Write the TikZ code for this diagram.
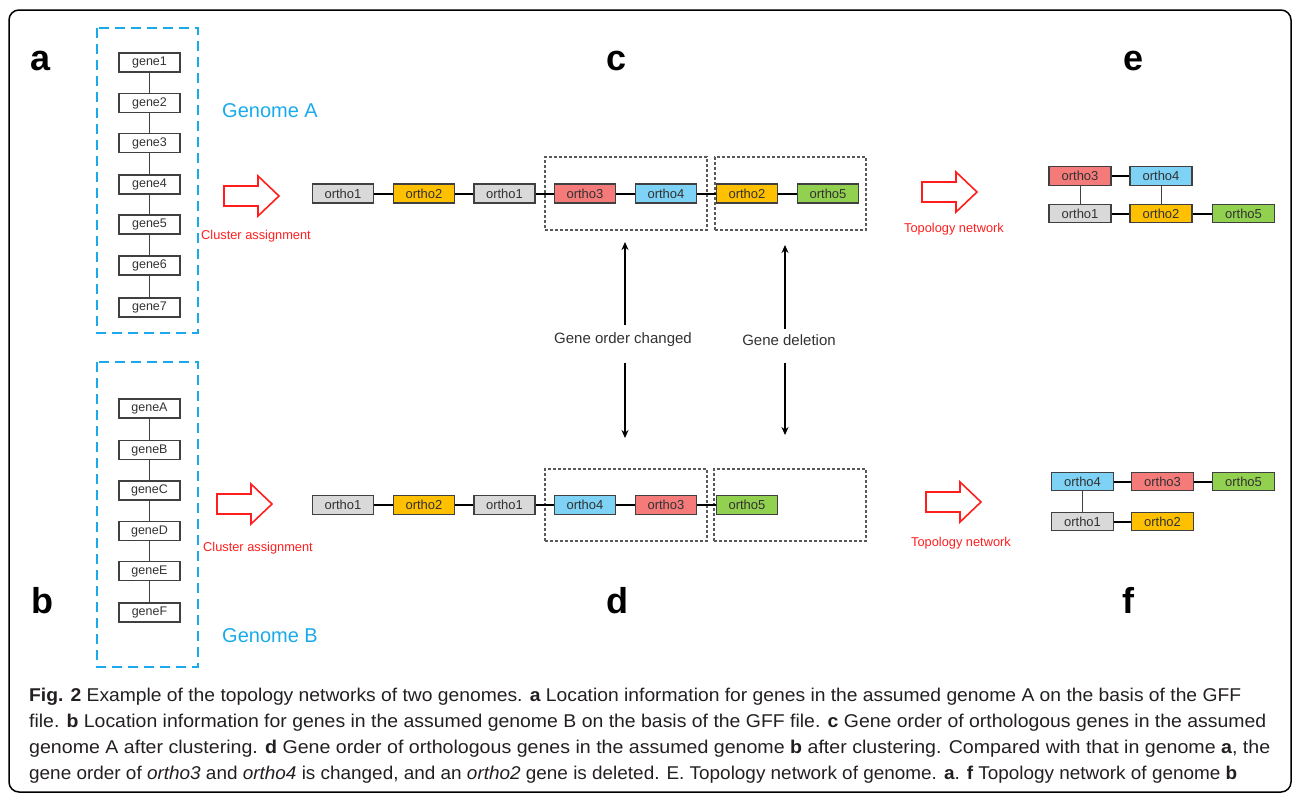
\documentclass[tikz,border=0pt]{standalone}
\usepackage{fontspec}
\setmainfont{Liberation Sans}
\usepackage{graphicx}
\usetikzlibrary{arrows.meta}
\definecolor{gcyan}{RGB}{25,170,235}
\definecolor{rarrow}{RGB}{255,30,30}
\definecolor{boxc}{RGB}{64,64,64}
\definecolor{txtc}{RGB}{50,50,50}
\definecolor{cgray}{RGB}{217,217,217}
\definecolor{corange}{RGB}{255,192,0}
\definecolor{csalmon}{RGB}{245,122,122}
\definecolor{csky}{RGB}{125,210,245}
\definecolor{cgreen}{RGB}{146,208,80}
\definecolor{captc}{RGB}{35,31,32}
\tikzset{
  letter/.style={anchor=base, inner sep=0pt, font=\fontsize{36}{36}\selectfont\bfseries},
  genebox/.style={draw=boxc, line width=1.2pt, fill=white, minimum width=61pt, minimum height=19pt, inner sep=0pt, text=txtc, font=\fontsize{12.5}{13}\selectfont},
  orthobox/.style={draw=boxc, line width=1.2pt, minimum width=61pt, minimum height=19pt, inner sep=0pt, text=txtc, font=\fontsize{13}{13}\selectfont},
  geneline/.style={draw=boxc, line width=1pt},
  chain/.style={draw=black, line width=2pt},
  vlink/.style={draw=boxc, line width=1pt},
  bluedash/.style={draw=gcyan, line width=2.5pt, dash pattern=on 10pt off 6pt},
  graydash/.style={draw=black!65, line width=1.1pt, dash pattern=on 3pt off 2pt, minimum height=73pt, inner sep=0pt},
  genomelbl/.style={anchor=west, inner sep=0pt, text=gcyan, font=\fontsize{20}{20}\selectfont},
  redlbl/.style={anchor=west, inner sep=0pt, text=rarrow, font=\fontsize{12.8}{13}\selectfont},
  changelbl/.style={inner sep=0pt, text=txtc, font=\fontsize{15}{15}\selectfont},
  dblarrow/.style={draw=black, line width=1.5pt, -{Stealth[length=8pt,width=7pt]}},
  capline/.style={anchor=base west, inner sep=0pt, text=captc, font=\fontsize{18.5}{20}\selectfont},
  redarrow/.pic={\draw[draw=rarrow, line width=1.6pt, fill=white, line join=miter]
     (0,-10) -- (34,-10) -- (34,-20) -- (55,0) -- (34,20) -- (34,10) -- (0,10) -- cycle;}
}
\begin{document}
\begin{tikzpicture}[x=1pt,y=-1pt]
\useasboundingbox (0,0) rectangle (1293,793);
\draw[line width=1.5pt, rounded corners=10pt] (9,10) rectangle (1291,792);

% panel letters
\node[letter] (la) at (41,70) {a};
\node[letter] (lb) at (42,613) {b};
\node[letter] (lc) at (617,70) {c};
\node[letter] (ld) at (617,613) {d};
\node[letter] (le) at (1133,70) {e};
\node[letter] (lf) at (1128,613) {f};

% genome A
\draw[bluedash] (97,28) rectangle (198,333);
\foreach \n/\y in {1/62.5,2/103,3/143,4/184.5,5/224.5,6/265.5,7/307.5}
  \node[genebox] (g\n) at (149.5,\y) {gene\n};
\foreach \a/\b in {1/2,2/3,3/4,4/5,5/6,6/7}
  \draw[geneline] (g\a) -- (g\b);
\node[genomelbl] (gA) at (222,111) {Genome A};

% genome B
\draw[bluedash] (97,362) rectangle (198,667);
\foreach \n/\y in {A/408.5,B/450,C/490.5,D/531,E/571,F/612.5}
  \node[genebox] (g\n) at (149.5,\y) {gene\n};
\foreach \a/\b in {A/B,B/C,C/D,D/E,E/F}
  \draw[geneline] (g\a) -- (g\b);
\node[genomelbl] (gB) at (222,636) {Genome B};

% cluster assignment arrows
\pic at (224,196) {redarrow};
\node[redlbl] (caA) at (201,236) {Cluster assignment};
\pic at (217,504) {redarrow};
\node[redlbl] (caB) at (203,548) {Cluster assignment};

% row c
\node[graydash, minimum width=162pt] (bc1) at (626,193.5) {};
\node[graydash, minimum width=151pt] (bc2) at (790.5,193.5) {};
\node[orthobox, fill=cgray]   (c1) at (343,193.5) {ortho1};
\node[orthobox, fill=corange] (c2) at (424,193.5) {ortho2};
\node[orthobox, fill=cgray]   (c3) at (504.5,193.5) {ortho1};
\node[orthobox, fill=csalmon] (c4) at (585,193.5) {ortho3};
\node[orthobox, fill=csky]    (c5) at (666,193.5) {ortho4};
\node[orthobox, fill=corange] (c6) at (747,193.5) {ortho2};
\node[orthobox, fill=cgreen]  (c7) at (828,193.5) {ortho5};
\foreach \a/\b in {1/2,2/3,3/4,4/5,5/6,6/7}
  \draw[chain] (c\a) -- (c\b);

% row d
\node[graydash, minimum width=162pt, minimum height=72pt] (bd1) at (626,505) {};
\node[graydash, minimum width=152pt, minimum height=72pt] (bd2) at (790,505) {};
\node[orthobox, fill=cgray]   (d1) at (343,505) {ortho1};
\node[orthobox, fill=corange] (d2) at (424,505) {ortho2};
\node[orthobox, fill=cgray]   (d3) at (504.5,505) {ortho1};
\node[orthobox, fill=csky]    (d4) at (585,505) {ortho4};
\node[orthobox, fill=csalmon] (d5) at (666,505) {ortho3};
\node[orthobox, fill=cgreen]  (d6) at (747,505) {ortho5};
\foreach \a/\b in {1/2,2/3,3/4,4/5,5/6}
  \draw[chain] (d\a) -- (d\b);

% change labels and arrows
\node[changelbl] (ch1) at (623,340) {Gene order changed};
\node[changelbl] (ch2) at (789,340) {Gene deletion};
\coordinate (u1s) at (625,325); \coordinate (u1e) at (625,242);
\coordinate (l1s) at (625,363); \coordinate (l1e) at (625,438);
\coordinate (u2s) at (785,329); \coordinate (u2e) at (785,245);
\coordinate (l2s) at (785,363); \coordinate (l2e) at (785,435);
\draw[dblarrow] (u1s) -- (u1e);
\draw[dblarrow] (l1s) -- (l1e);
\draw[dblarrow] (u2s) -- (u2e);
\draw[dblarrow] (l2s) -- (l2e);

% topology arrows
\pic at (922,192) {redarrow};
\node[redlbl] (tnA) at (904,229) {Topology network};
\pic at (926,502) {redarrow};
\node[redlbl] (tnB) at (911,543) {Topology network};

% network e
\node[orthobox, fill=csalmon, minimum width=62pt, minimum height=18.5pt] (e3) at (1080,176) {ortho3};
\node[orthobox, fill=csky,    minimum width=62pt, minimum height=18.5pt] (e4) at (1161,176) {ortho4};
\node[orthobox, fill=cgray,   minimum width=62pt, minimum height=18.5pt] (e1) at (1080,213.5) {ortho1};
\node[orthobox, fill=corange, minimum width=62pt, minimum height=18.5pt] (e2) at (1161,213.5) {ortho2};
\node[orthobox, fill=cgreen,  minimum width=62pt, minimum height=18.5pt] (e5) at (1243.5,213.5) {ortho5};
\draw[chain] (e3) -- (e4);
\draw[chain] (e1) -- (e2);
\draw[chain] (e2) -- (e5);
\draw[vlink] (e3) -- (e1);
\draw[vlink] (e4) -- (e2);

% network f
\node[orthobox, fill=csky,    minimum width=62pt, minimum height=18.5pt] (f4) at (1082.5,481.5) {ortho4};
\node[orthobox, fill=csalmon, minimum width=62pt, minimum height=18.5pt] (f3) at (1162.5,481.5) {ortho3};
\node[orthobox, fill=cgreen,  minimum width=62pt, minimum height=18.5pt] (f5) at (1243.5,481.5) {ortho5};
\node[orthobox, fill=cgray,   minimum width=62pt, minimum height=18.5pt] (f1) at (1082.5,521.5) {ortho1};
\node[orthobox, fill=corange, minimum width=62pt, minimum height=18.5pt] (f2) at (1162.5,521.5) {ortho2};
\draw[chain] (f4) -- (f3);
\draw[chain] (f3) -- (f5);
\draw[chain] (f1) -- (f2);
\draw[vlink] (f4) -- (f1);

% caption
\node[capline] (cap1) at (29,701) {\resizebox{1212pt}{\height}{\textbf{Fig. 2} Example of the topology networks of two genomes. \textbf{a} Location information for genes in the assumed genome A on the basis of the GFF}};
\node[capline] (cap2) at (29,727) {\resizebox{1237pt}{\height}{file. \textbf{b} Location information for genes in the assumed genome B on the basis of the GFF file. \textbf{c} Gene order of orthologous genes in the assumed}};
\node[capline] (cap3) at (29,753) {\resizebox{1241pt}{\height}{genome A after clustering. \textbf{d} Gene order of orthologous genes in the assumed genome \textbf{b} after clustering. Compared with that in genome \textbf{a}, the}};
\node[capline] (cap4) at (29,779) {\resizebox{1208pt}{\height}{gene order of \textit{ortho3} and \textit{ortho4} is changed, and an \textit{ortho2} gene is deleted. E. Topology network of genome. \textbf{a}. \textbf{f} Topology network of genome \textbf{b}}};
\end{tikzpicture}
\end{document}
